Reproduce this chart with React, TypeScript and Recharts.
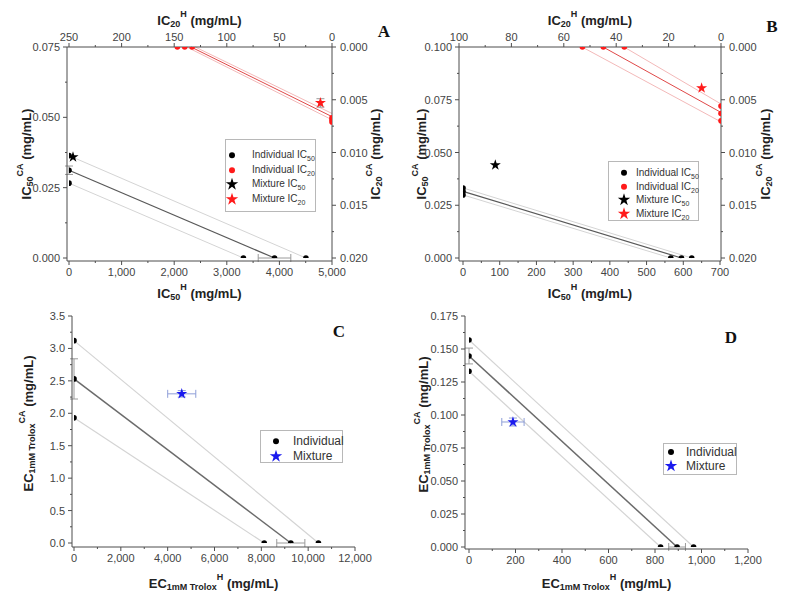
import React from "react";
import {
  ScatterChart,
  Scatter,
  XAxis,
  YAxis,
  ReferenceLine,
  ErrorBar,
  Legend,
  Symbols,
} from "recharts";

type Pt = { x: number; y: number; ex?: number; ey?: number };

// ---------- Panel A (IC50 bottom/left, IC20 top/right) ----------
const aIndiv50: Pt[] = [
  { x: 0, y: 0.0364, ex: 0, ey: 0 },
  { x: 0, y: 0.0312, ex: 0, ey: 0.0015 },
  { x: 0, y: 0.0266, ex: 0, ey: 0 },
  { x: 3316, y: 0, ex: 0, ey: 0 },
  { x: 3907, y: 0, ex: 310, ey: 0 },
  { x: 4504, y: 0, ex: 0, ey: 0 },
];
const aMix50: Pt[] = [{ x: 76, y: 0.0359 }];
const aIndiv20: Pt[] = [
  { x: 147, y: 0 },
  { x: 140, y: 0 },
  { x: 133, y: 0 },
  { x: 0, y: 0.0067 },
  { x: 0, y: 0.0069 },
  { x: 0, y: 0.0071 },
];
const aMix20: Pt[] = [{ x: 11, y: 0.0053, ex: 0, ey: 0.0004 }];
const aFit50: Pt[] = [{ x: 0, y: 0.0312 }, { x: 3907, y: 0 }];
const aHi50: Pt[] = [{ x: 0, y: 0.0364 }, { x: 4504, y: 0 }];
const aLo50: Pt[] = [{ x: 0, y: 0.0266 }, { x: 3316, y: 0 }];
const aFit20: Pt[] = [{ x: 134, y: 0 }, { x: 0, y: 0.0066 }];
const aHi20: Pt[] = [{ x: 138, y: 0 }, { x: 0, y: 0.0069 }];
const aLo20: Pt[] = [{ x: 130, y: 0 }, { x: 0, y: 0.0063 }];
const aBottomTicks = [0, 1000, 2000, 3000, 4000, 5000];
const aTopTicks = [0, 50, 100, 150, 200, 250];
const aLeftTicks = [0, 0.025, 0.05, 0.075];
const ic20RightTicks = [0, 0.005, 0.01, 0.015, 0.02];

// ---------- Panel B ----------
const bIndiv50: Pt[] = [
  { x: 0, y: 0.0332 },
  { x: 0, y: 0.0316 },
  { x: 0, y: 0.0299 },
  { x: 566, y: 0 },
  { x: 595, y: 0 },
  { x: 623, y: 0 },
];
const bMix50: Pt[] = [{ x: 88, y: 0.0441 }];
const bIndiv20: Pt[] = [
  { x: 52.9, y: 0 },
  { x: 44.9, y: 0 },
  { x: 36.9, y: 0 },
  { x: 0, y: 0.0056 },
  { x: 0, y: 0.0063 },
  { x: 0, y: 0.007 },
];
const bMix20: Pt[] = [{ x: 7.4, y: 0.0039 }];
const bFit50: Pt[] = [{ x: 0, y: 0.0316 }, { x: 595, y: 0 }];
const bHi50: Pt[] = [{ x: 0, y: 0.0332 }, { x: 623, y: 0 }];
const bLo50: Pt[] = [{ x: 0, y: 0.0299 }, { x: 566, y: 0 }];
const bFit20: Pt[] = [{ x: 45, y: 0 }, { x: 0, y: 0.0062 }];
const bHi20: Pt[] = [{ x: 37, y: 0 }, { x: 0, y: 0.0054 }];
const bLo20: Pt[] = [{ x: 53, y: 0 }, { x: 0, y: 0.0071 }];
const bBottomTicks = [0, 100, 200, 300, 400, 500, 600, 700];
const bTopTicks = [0, 20, 40, 60, 80, 100];
const bLeftTicks = [0, 0.025, 0.05, 0.075, 0.1];

// ---------- Panel C (EC1mM Trolox) ----------
const cIndiv: Pt[] = [
  { x: 0, y: 3.12, ex: 0, ey: 0 },
  { x: 0, y: 2.53, ex: 0, ey: 0.31 },
  { x: 0, y: 1.93, ex: 0, ey: 0 },
  { x: 8123, y: 0, ex: 0, ey: 0 },
  { x: 9259, y: 0, ex: 600, ey: 0 },
  { x: 10438, y: 0, ex: 0, ey: 0 },
];
const cMix: Pt[] = [{ x: 4601, y: 2.3, ex: 600, ey: 0.05 }];
const cFit: Pt[] = [{ x: 0, y: 2.53 }, { x: 9259, y: 0 }];
const cHi: Pt[] = [{ x: 0, y: 3.12 }, { x: 10438, y: 0 }];
const cLo: Pt[] = [{ x: 0, y: 1.93 }, { x: 8123, y: 0 }];
const cBottomTicks = [0, 2000, 4000, 6000, 8000, 10000, 12000];
const cLeftTicks = [0, 0.5, 1, 1.5, 2, 2.5, 3, 3.5];

// ---------- Panel D ----------
const dIndiv: Pt[] = [
  { x: 0, y: 0.1568, ex: 0, ey: 0 },
  { x: 0, y: 0.1447, ex: 0, ey: 0.006 },
  { x: 0, y: 0.1331, ex: 0, ey: 0 },
  { x: 824, y: 0, ex: 0, ey: 0 },
  { x: 895, y: 0, ex: 36, ey: 0 },
  { x: 966, y: 0, ex: 0, ey: 0 },
];
const dMix: Pt[] = [{ x: 189, y: 0.0947, ex: 48, ey: 0.003 }];
const dFit: Pt[] = [{ x: 0, y: 0.1447 }, { x: 895, y: 0 }];
const dHi: Pt[] = [{ x: 0, y: 0.1568 }, { x: 966, y: 0 }];
const dLo: Pt[] = [{ x: 0, y: 0.1331 }, { x: 824, y: 0 }];
const dBottomTicks = [0, 200, 400, 600, 800, 1000, 1200];
const dLeftTicks = [0, 0.025, 0.05, 0.075, 0.1, 0.125, 0.15, 0.175];

const FONT = '"Liberation Sans", Arial, Helvetica, sans-serif';
const AXIS = "#4d4d4d";
const TICK_TXT = "#444";
const RED = "#ff1a1a";
const BLUE = "#1a1aee";
const BAND = "#d4d4d4";
const PINK = "#f3b9b9";
const ERR = "#9a9a9a";

const withMinor = (m: number[]) => {
  const out: number[] = [];
  m.forEach((v, i) => {
    out.push(v);
    if (i < m.length - 1) out.push((v + m[i + 1]) / 2);
  });
  return out;
};

const thousands = (v: number) => v.toLocaleString("en-US");
const fixed = (n: number) => (v: number) => v.toFixed(n);

type Side = "top" | "bottom" | "left" | "right";

// tickSize/tickMargin are 0, so x/y sit on the axis line
function makeTick(side: Side, majors: number[], fmt: (v: number) => string) {
  return (props: any) => {
    const { x, y, payload } = props;
    const v = payload.value as number;
    const major = majors.some((m) => Math.abs(m - v) < 1e-9);
    const len = major ? 4 : 2;
    const t = { fill: TICK_TXT, fontSize: 11, fontFamily: FONT };
    if (side === "bottom") {
      return (
        <g>
          <line x1={x} x2={x} y1={y} y2={y + len} stroke={AXIS} />
          {major && (
            <text x={x} y={y + 15} textAnchor="middle" {...t}>
              {fmt(v)}
            </text>
          )}
        </g>
      );
    }
    if (side === "top") {
      return (
        <g>
          <line x1={x} x2={x} y1={y} y2={y - len} stroke={AXIS} />
          {major && (
            <text x={x} y={y - 6} textAnchor="middle" {...t}>
              {fmt(v)}
            </text>
          )}
        </g>
      );
    }
    if (side === "left") {
      return (
        <g>
          <line x1={x} x2={x - len} y1={y} y2={y} stroke={AXIS} />
          {major && (
            <text x={x - 7} y={y + 4} textAnchor="end" {...t}>
              {fmt(v)}
            </text>
          )}
        </g>
      );
    }
    return (
      <g>
        <line x1={x} x2={x + len} y1={y} y2={y} stroke={AXIS} />
        {major && (
          <text x={x + 8} y={y + 4} textAnchor="start" {...t}>
            {fmt(v)}
          </text>
        )}
      </g>
    );
  };
}

function AxisTitle(props: any) {
  const { viewBox, side, off, main, sub, sup, shiftY = 0 } = props;
  const vb = viewBox || { x: 0, y: 0, width: 0, height: 0 };
  let x = 0;
  let y = 0;
  let rot = false;
  if (side === "bottom") {
    x = vb.x + vb.width / 2;
    y = vb.y + off;
  } else if (side === "top") {
    x = vb.x + vb.width / 2;
    y = vb.y + vb.height - off;
  } else if (side === "left") {
    x = vb.x + vb.width - off;
    y = vb.y + vb.height / 2 + shiftY;
    rot = true;
  } else {
    x = vb.x + off;
    y = vb.y + vb.height / 2 + shiftY;
    rot = true;
  }
  return (
    <text
      x={x}
      y={y}
      transform={rot ? `rotate(-90 ${x} ${y})` : undefined}
      textAnchor="middle"
      dominantBaseline="central"
      fontFamily={FONT}
      fontWeight="bold"
      fontSize={13}
      fill="#222"
    >
      <tspan>{main}</tspan>
      <tspan dy={4} fontSize={9}>
        {sub}
      </tspan>
      <tspan dy={-10} fontSize={9}>
        {sup}
      </tspan>
      <tspan dy={6}> (mg/mL)</tspan>
    </text>
  );
}

type LegItem = { text: string; sub?: string; kind: "dot" | "star"; color: string };

function LegendBox(p: {
  items: LegItem[];
  w: number;
  h: number;
  pad: number;
  rowH: number;
  mx: number;
  tx: number;
  fs: number;
}) {
  return (
    <div
      style={{
        position: "relative",
        width: p.w,
        height: p.h,
        border: "1px solid #b8b8b8",
        boxSizing: "border-box",
        background: "#fff",
        fontFamily: FONT,
        fontSize: p.fs,
        color: "#333",
      }}
    >
      {p.items.map((it, i) => (
        <div
          key={i}
          style={{ position: "absolute", left: 0, top: p.pad + i * p.rowH, height: p.rowH, width: "100%" }}
        >
          <svg width={14} height={p.rowH} style={{ position: "absolute", left: p.mx - 7, top: 0 }}>
            {it.kind === "dot" ? (
              <circle cx={7} cy={p.rowH / 2} r={3} fill={it.color} />
            ) : (
              <Symbols cx={7} cy={p.rowH / 2} type="star" size={48} fill={it.color} />
            )}
          </svg>
          <span
            style={{
              position: "absolute",
              left: p.tx,
              top: 0,
              lineHeight: `${p.rowH}px`,
              whiteSpace: "nowrap",
            }}
          >
            {it.text}
            {it.sub && (
              <span style={{ fontSize: p.fs - 3, position: "relative", top: 3 }}>{it.sub}</span>
            )}
          </span>
        </div>
      ))}
    </div>
  );
}

const dot = (fill: string) => (p: any) => <circle cx={p.cx} cy={p.cy} r={2.8} fill={fill} />;
const star = (fill: string) => (p: any) => (
  <Symbols cx={p.cx} cy={p.cy} type="star" size={38} fill={fill} />
);

const seg = (pts: Pt[], xId: string, yId: string, stroke: string, w: number, key: string) => (
  <ReferenceLine
    key={key}
    segment={[
      { x: pts[0].x, y: pts[0].y },
      { x: pts[1].x, y: pts[1].y },
    ]}
    xAxisId={xId}
    yAxisId={yId}
    stroke={stroke}
    strokeWidth={w}
    ifOverflow="visible"
  />
);

const axisCommon = {
  type: "number" as const,
  interval: 0 as const,
  tickSize: 0,
  tickMargin: 0,
  tickLine: false,
  stroke: AXIS,
  allowDataOverflow: true,
};

const legendIC: LegItem[] = [
  { text: "Individual IC", sub: "50", kind: "dot", color: "#000" },
  { text: "Individual IC", sub: "20", kind: "dot", color: RED },
  { text: "Mixture IC", sub: "50", kind: "star", color: "#000" },
  { text: "Mixture IC", sub: "20", kind: "star", color: RED },
];
const legendEC: LegItem[] = [
  { text: "Individual", kind: "dot", color: "#000" },
  { text: "Mixture", kind: "star", color: BLUE },
];

function DualPanel(p: {
  left: number;
  width: number;
  rightW: number;
  bDomain: [number, number];
  bTicks: number[];
  bPad: { left: number; right: number };
  tDomain: [number, number];
  tTicks: number[];
  tPad: { left: number; right: number };
  lDomain: [number, number];
  lTicks: number[];
  indiv50: Pt[];
  mix50: Pt[];
  indiv20: Pt[];
  mix20: Pt[];
  fit50: Pt[];
  hi50: Pt[];
  lo50: Pt[];
  fit20: Pt[];
  hi20: Pt[];
  lo20: Pt[];
  leftOff: number;
  rightOff: number;
  legend: { left: number; top: number; w: number; h: number; pad: number; rowH: number; mx: number; tx: number };
  err50: boolean;
}) {
  return (
    <div style={{ position: "absolute", left: p.left, top: 0 }}>
      <ScatterChart width={p.width} height={312} margin={{ top: 0, right: 0, bottom: 0, left: 0 }}>
        <XAxis
          {...axisCommon}
          xAxisId="b"
          dataKey="x"
          orientation="bottom"
          height={51}
          domain={p.bDomain}
          ticks={withMinor(p.bTicks)}
          tick={makeTick("bottom", p.bTicks, thousands)}
          padding={p.bPad}
          label={<AxisTitle side="bottom" off={32} main="IC" sub="50" sup="H" />}
        />
        <XAxis
          {...axisCommon}
          xAxisId="t"
          dataKey="x"
          orientation="top"
          reversed
          height={47}
          domain={p.tDomain}
          ticks={withMinor(p.tTicks)}
          tick={makeTick("top", p.tTicks, thousands)}
          padding={p.tPad}
          label={<AxisTitle side="top" off={27} main="IC" sub="20" sup="H" />}
        />
        <YAxis
          {...axisCommon}
          yAxisId="l"
          dataKey="y"
          orientation="left"
          width={67}
          domain={p.lDomain}
          ticks={withMinor(p.lTicks)}
          tick={makeTick("left", p.lTicks, fixed(3))}
          padding={{ top: 0, bottom: 3 }}
          label={<AxisTitle side="left" off={p.leftOff} main="IC" sub="50" sup="CA" />}
        />
        <YAxis
          {...axisCommon}
          yAxisId="r"
          dataKey="y"
          orientation="right"
          reversed
          width={p.rightW}
          domain={[0, 0.02]}
          ticks={withMinor(ic20RightTicks)}
          tick={makeTick("right", ic20RightTicks, fixed(3))}
          padding={{ top: 0, bottom: 3 }}
          label={<AxisTitle side="right" off={p.rightOff} main="IC" sub="20" sup="CA" />}
        />
        {seg(p.hi50, "b", "l", BAND, 1, "h50")}
        {seg(p.lo50, "b", "l", BAND, 1, "l50")}
        {seg(p.fit50, "b", "l", "#595959", 1.2, "f50")}
        {seg(p.hi20, "t", "r", PINK, 1, "h20")}
        {seg(p.lo20, "t", "r", PINK, 1, "l20")}
        {seg(p.fit20, "t", "r", "#e04848", 1, "f20")}
        <Scatter
          data={p.indiv50}
          xAxisId="b"
          yAxisId="l"
          fill="#000"
          shape={dot("#000")}
          isAnimationActive={false}
        >
          {p.err50 && <ErrorBar dataKey="ex" direction="x" width={4} stroke={ERR} strokeWidth={1} />}
          {p.err50 && <ErrorBar dataKey="ey" direction="y" width={4} stroke={ERR} strokeWidth={1} />}
        </Scatter>
        <Scatter
          data={p.indiv20}
          xAxisId="t"
          yAxisId="r"
          fill={RED}
          shape={dot(RED)}
          isAnimationActive={false}
        />
        <Scatter
          data={p.mix50}
          xAxisId="b"
          yAxisId="l"
          fill="#000"
          shape={star("#000")}
          isAnimationActive={false}
        />
        <Scatter
          data={p.mix20}
          xAxisId="t"
          yAxisId="r"
          fill={RED}
          shape={star(RED)}
          isAnimationActive={false}
        >
          {p.err50 && <ErrorBar dataKey="ey" direction="y" width={4} stroke={ERR} strokeWidth={1} />}
        </Scatter>
        <Legend
          layout="horizontal"
          verticalAlign="middle"
          align="center"
          wrapperStyle={{ left: p.legend.left, top: p.legend.top, width: p.legend.w, height: p.legend.h }}
          content={() => (
            <LegendBox
              items={legendIC}
              w={p.legend.w}
              h={p.legend.h}
              pad={p.legend.pad}
              rowH={p.legend.rowH}
              mx={p.legend.mx}
              tx={p.legend.tx}
              fs={10}
            />
          )}
        />
      </ScatterChart>
    </div>
  );
}

function SinglePanel(p: {
  left: number;
  width: number;
  yW: number;
  xH: number;
  bDomain: [number, number];
  bTicks: number[];
  xPadLeft: number;
  lDomain: [number, number];
  lTicks: number[];
  lFmt: (v: number) => string;
  yPadBottom: number;
  indiv: Pt[];
  mix: Pt[];
  fit: Pt[];
  hi: Pt[];
  lo: Pt[];
  leftOff: number;
  bottomOff: number;
  legend: { left: number; top: number; w: number; h: number; pad: number; rowH: number; mx: number; tx: number };
}) {
  return (
    <div style={{ position: "absolute", left: p.left, top: 300 }}>
      <ScatterChart width={p.width} height={301} margin={{ top: 16, right: 37, bottom: 0, left: 0 }}>
        <XAxis
          {...axisCommon}
          xAxisId="b"
          dataKey="x"
          orientation="bottom"
          height={p.xH}
          domain={p.bDomain}
          ticks={withMinor(p.bTicks)}
          tick={makeTick("bottom", p.bTicks, thousands)}
          padding={{ left: p.xPadLeft, right: 0 }}
          label={<AxisTitle side="bottom" off={p.bottomOff} main="EC" sub="1mM Trolox" sup="H" />}
        />
        <YAxis
          {...axisCommon}
          yAxisId="l"
          dataKey="y"
          orientation="left"
          width={p.yW}
          domain={p.lDomain}
          ticks={withMinor(p.lTicks)}
          tick={makeTick("left", p.lTicks, p.lFmt)}
          padding={{ top: 0, bottom: p.yPadBottom }}
          label={
            <AxisTitle side="left" off={p.leftOff} shiftY={-8} main="EC" sub="1mM Trolox" sup="CA" />
          }
        />
        {seg(p.hi, "b", "l", BAND, 1.2, "hi")}
        {seg(p.lo, "b", "l", BAND, 1.2, "lo")}
        {seg(p.fit, "b", "l", "#6b6b6b", 1.5, "fit")}
        <Scatter data={p.indiv} xAxisId="b" yAxisId="l" fill="#000" shape={dot("#000")} isAnimationActive={false}>
          <ErrorBar dataKey="ex" direction="x" width={4} stroke={ERR} strokeWidth={1} />
          <ErrorBar dataKey="ey" direction="y" width={4} stroke={ERR} strokeWidth={1} />
        </Scatter>
        <Scatter data={p.mix} xAxisId="b" yAxisId="l" fill={BLUE} shape={star(BLUE)} isAnimationActive={false}>
          <ErrorBar dataKey="ex" direction="x" width={4} stroke="#8f9fd8" strokeWidth={1} />
          <ErrorBar dataKey="ey" direction="y" width={4} stroke="#8f9fd8" strokeWidth={1} />
        </Scatter>
        <Legend
          layout="horizontal"
          verticalAlign="middle"
          align="center"
          wrapperStyle={{ left: p.legend.left, top: p.legend.top, width: p.legend.w, height: p.legend.h }}
          content={() => (
            <LegendBox
              items={legendEC}
              w={p.legend.w}
              h={p.legend.h}
              pad={p.legend.pad}
              rowH={p.legend.rowH}
              mx={p.legend.mx}
              tx={p.legend.tx}
              fs={12}
            />
          )}
        />
      </ScatterChart>
    </div>
  );
}

export default function App() {
  return (
    <div
      style={{
        position: "absolute",
        left: 0,
        top: 0,
        width: 785,
        height: 601,
        background: "#fff",
        overflow: "hidden",
      }}
    >
      <SinglePanel
        left={0}
        width={392}
        yW={72}
        xH={54}
        bDomain={[0, 12000]}
        bTicks={cBottomTicks}
        xPadLeft={2}
        lDomain={[0, 3.5]}
        lTicks={cLeftTicks}
        lFmt={fixed(1)}
        yPadBottom={4}
        indiv={cIndiv}
        mix={cMix}
        fit={cFit}
        hi={cHi}
        lo={cLo}
        leftOff={44}
        bottomOff={36}
        legend={{ left: 260, top: 130, w: 83, h: 33, pad: 3, rowH: 14.7, mx: 15, tx: 32 }}
      />
      <SinglePanel
        left={392}
        width={393}
        yW={73}
        xH={52}
        bDomain={[0, 1200]}
        bTicks={dBottomTicks}
        xPadLeft={4}
        lDomain={[0, 0.175]}
        lTicks={dLeftTicks}
        lFmt={fixed(3)}
        yPadBottom={2}
        indiv={dIndiv}
        mix={dMix}
        fit={dFit}
        hi={dHi}
        lo={dLo}
        leftOff={42}
        bottomOff={34}
        legend={{ left: 271, top: 143, w: 74, h: 32, pad: 1, rowH: 14, mx: 7, tx: 22 }}
      />
      <DualPanel
        left={0}
        width={392}
        rightW={60}
        bDomain={[0, 5000]}
        bTicks={aBottomTicks}
        bPad={{ left: 2, right: 0 }}
        tDomain={[0, 250]}
        tTicks={aTopTicks}
        tPad={{ left: 2, right: 0 }}
        lDomain={[0, 0.075]}
        lTicks={aLeftTicks}
        indiv50={aIndiv50}
        mix50={aMix50}
        indiv20={aIndiv20}
        mix20={aMix20}
        fit50={aFit50}
        hi50={aHi50}
        lo50={aLo50}
        fit20={aFit20}
        hi20={aHi20}
        lo20={aLo20}
        leftOff={41}
        rightOff={43}
        err50={true}
        legend={{ left: 225, top: 139, w: 91, h: 73, pad: 8, rowH: 14.7, mx: 6, tx: 26 }}
      />
      <DualPanel
        left={392}
        width={393}
        rightW={64}
        bDomain={[0, 700]}
        bTicks={bBottomTicks}
        bPad={{ left: 4, right: 1 }}
        tDomain={[0, 100]}
        tTicks={bTopTicks}
        tPad={{ left: 0, right: 0 }}
        lDomain={[0, 0.1]}
        lTicks={bLeftTicks}
        indiv50={bIndiv50}
        mix50={bMix50}
        indiv20={bIndiv20}
        mix20={bMix20}
        fit50={bFit50}
        hi50={bHi50}
        lo50={bLo50}
        fit20={bFit20}
        hi20={bHi20}
        lo20={bLo20}
        leftOff={38}
        rightOff={44}
        err50={false}
        legend={{ left: 216, top: 161, w: 91, h: 60, pad: 4, rowH: 13.7, mx: 15, tx: 27 }}
      />
      <svg
        width={785}
        height={601}
        style={{ position: "absolute", left: 0, top: 0, pointerEvents: "none" }}
      >
        {[
          { t: "A", x: 384, y: 31 },
          { t: "B", x: 772, y: 26 },
          { t: "C", x: 339, y: 331 },
          { t: "D", x: 731, y: 337 },
        ].map((l) => (
          <text
            key={l.t}
            x={l.x}
            y={l.y}
            textAnchor="middle"
            dominantBaseline="central"
            fontFamily='"Liberation Serif", "Times New Roman", serif'
            fontWeight="bold"
            fontSize={17}
            fill="#111"
          >
            {l.t}
          </text>
        ))}
      </svg>
    </div>
  );
}
